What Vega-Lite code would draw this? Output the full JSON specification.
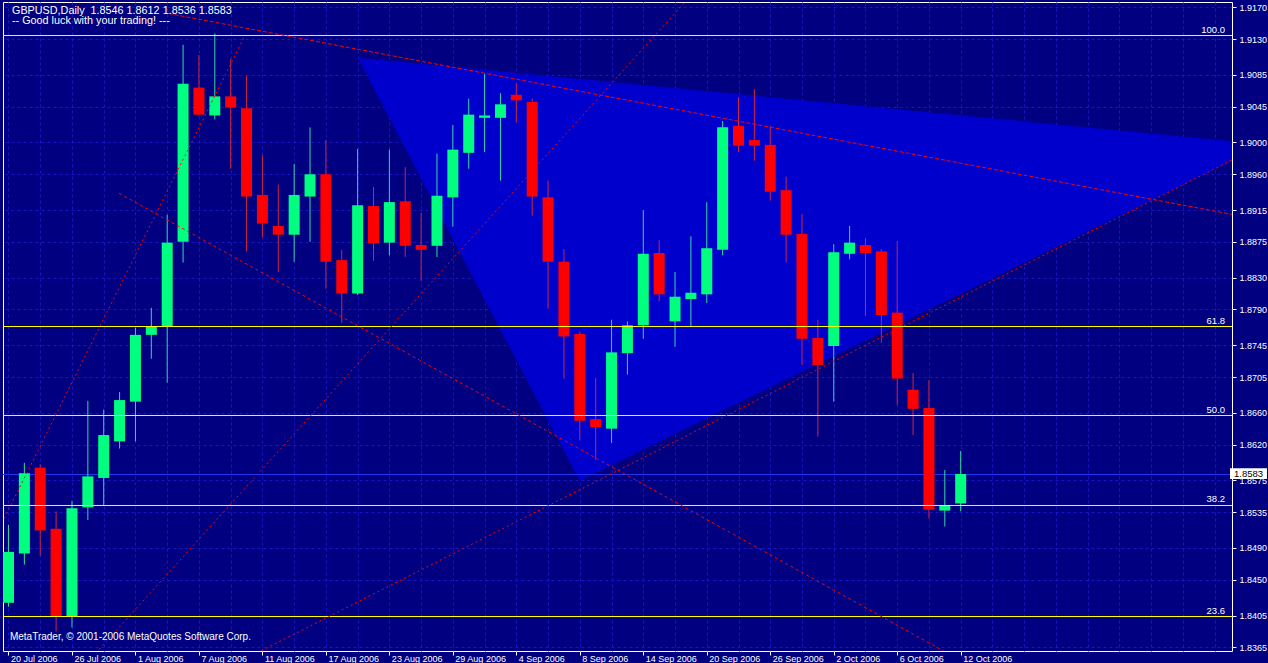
{
  "$schema": "https://vega.github.io/schema/vega-lite/v6.json",
  "width": 1229,
  "height": 649,
  "padding": {"left": 3, "top": 2, "right": 36, "bottom": 12},
  "autosize": {"type": "none"},
  "background": "#000080",
  "config": {
    "view": {"stroke": "#FFFFFF", "strokeWidth": 1, "fill": "#000080"},
    "font": "Liberation Sans",
    "text": {"font": "Liberation Sans"},
    "axisX": {
      "domain": false,
      "grid": true,
      "gridColor": "#1616C4",
      "gridDash": [3, 3],
      "gridWidth": 1,
      "ticks": true,
      "tickSize": 4,
      "labelAlign": "left",
      "labelBaseline": "top",
      "labelOffset": 2,
      "labelPadding": -1,
      "labelColor": "#FFFFFF",
      "labelFont": "Liberation Sans",
      "labelFontSize": 9,
      "labelOverlap": false,
      "labelFlush": false
    },
    "axisY": {
      "domain": false,
      "grid": true,
      "gridColor": "#1616C4",
      "gridDash": [3, 3],
      "gridWidth": 1,
      "tickColor": "#FFFFFF",
      "tickSize": 4,
      "labelPadding": 3,
      "labelColor": "#FFFFFF",
      "labelFont": "Liberation Sans",
      "labelFontSize": 9,
      "labelOverlap": false,
      "labelFlush": false
    }
  },
  "datasets": {
    "candles": [
      {"i":0,"date":"20 Jul 2006","o":1.8421,"h":1.8519,"l":1.8416,"c":1.8485},
      {"i":1,"date":"21 Jul 2006","o":1.8483,"h":1.8597,"l":1.8469,"c":1.8584},
      {"i":2,"date":"24 Jul 2006","o":1.8591,"h":1.8595,"l":1.8480,"c":1.8512},
      {"i":3,"date":"25 Jul 2006","o":1.8514,"h":1.8536,"l":1.8385,"c":1.8403},
      {"i":4,"date":"26 Jul 2006","o":1.8404,"h":1.8549,"l":1.8390,"c":1.8540},
      {"i":5,"date":"27 Jul 2006","o":1.8541,"h":1.8675,"l":1.8525,"c":1.8580},
      {"i":6,"date":"28 Jul 2006","o":1.8578,"h":1.8664,"l":1.8544,"c":1.8632},
      {"i":7,"date":"31 Jul 2006","o":1.8624,"h":1.8686,"l":1.8615,"c":1.8676},
      {"i":8,"date":"1 Aug 2006","o":1.8674,"h":1.8767,"l":1.8624,"c":1.8758},
      {"i":9,"date":"2 Aug 2006","o":1.8758,"h":1.8792,"l":1.8728,"c":1.8769},
      {"i":10,"date":"3 Aug 2006","o":1.8769,"h":1.8909,"l":1.8698,"c":1.8874},
      {"i":11,"date":"4 Aug 2006","o":1.8875,"h":1.9123,"l":1.8849,"c":1.9074},
      {"i":12,"date":"7 Aug 2006","o":1.9069,"h":1.9110,"l":1.9034,"c":1.9035},
      {"i":13,"date":"8 Aug 2006","o":1.9034,"h":1.9137,"l":1.9029,"c":1.9058},
      {"i":14,"date":"9 Aug 2006","o":1.9058,"h":1.9105,"l":1.8967,"c":1.9044},
      {"i":15,"date":"10 Aug 2006","o":1.9043,"h":1.9084,"l":1.8863,"c":1.8932},
      {"i":16,"date":"11 Aug 2006","o":1.8934,"h":1.8984,"l":1.8881,"c":1.8898},
      {"i":17,"date":"14 Aug 2006","o":1.8895,"h":1.8947,"l":1.8837,"c":1.8884},
      {"i":18,"date":"15 Aug 2006","o":1.8884,"h":1.8973,"l":1.8850,"c":1.8934},
      {"i":19,"date":"16 Aug 2006","o":1.8932,"h":1.9019,"l":1.8875,"c":1.8960},
      {"i":20,"date":"17 Aug 2006","o":1.8960,"h":1.9003,"l":1.8816,"c":1.8850},
      {"i":21,"date":"18 Aug 2006","o":1.8852,"h":1.8865,"l":1.8773,"c":1.8810},
      {"i":22,"date":"21 Aug 2006","o":1.8810,"h":1.8992,"l":1.8808,"c":1.8921},
      {"i":23,"date":"22 Aug 2006","o":1.8920,"h":1.8944,"l":1.8851,"c":1.8873},
      {"i":24,"date":"23 Aug 2006","o":1.8874,"h":1.8991,"l":1.8858,"c":1.8925},
      {"i":25,"date":"24 Aug 2006","o":1.8926,"h":1.8969,"l":1.8856,"c":1.8870},
      {"i":26,"date":"25 Aug 2006","o":1.8871,"h":1.8911,"l":1.8826,"c":1.8865},
      {"i":27,"date":"28 Aug 2006","o":1.8870,"h":1.8986,"l":1.8856,"c":1.8933},
      {"i":28,"date":"29 Aug 2006","o":1.8931,"h":1.9022,"l":1.8894,"c":1.8991},
      {"i":29,"date":"30 Aug 2006","o":1.8987,"h":1.9055,"l":1.8967,"c":1.9035},
      {"i":30,"date":"31 Aug 2006","o":1.9031,"h":1.9086,"l":1.8988,"c":1.9034},
      {"i":31,"date":"1 Sep 2006","o":1.9031,"h":1.9062,"l":1.8952,"c":1.9048},
      {"i":32,"date":"4 Sep 2006","o":1.9060,"h":1.9075,"l":1.9025,"c":1.9053},
      {"i":33,"date":"5 Sep 2006","o":1.9051,"h":1.9055,"l":1.8908,"c":1.8932},
      {"i":34,"date":"6 Sep 2006","o":1.8931,"h":1.8952,"l":1.8791,"c":1.8850},
      {"i":35,"date":"7 Sep 2006","o":1.8850,"h":1.8866,"l":1.8703,"c":1.8756},
      {"i":36,"date":"8 Sep 2006","o":1.8759,"h":1.8762,"l":1.8625,"c":1.8650},
      {"i":37,"date":"11 Sep 2006","o":1.8652,"h":1.8704,"l":1.8601,"c":1.8642},
      {"i":38,"date":"12 Sep 2006","o":1.8640,"h":1.8777,"l":1.8622,"c":1.8736},
      {"i":39,"date":"13 Sep 2006","o":1.8735,"h":1.8775,"l":1.8708,"c":1.8770},
      {"i":40,"date":"14 Sep 2006","o":1.8770,"h":1.8915,"l":1.8753,"c":1.8860},
      {"i":41,"date":"15 Sep 2006","o":1.8861,"h":1.8877,"l":1.8800,"c":1.8809},
      {"i":42,"date":"18 Sep 2006","o":1.8775,"h":1.8837,"l":1.8743,"c":1.8806},
      {"i":43,"date":"19 Sep 2006","o":1.8803,"h":1.8882,"l":1.8769,"c":1.8811},
      {"i":44,"date":"20 Sep 2006","o":1.8809,"h":1.8925,"l":1.8798,"c":1.8867},
      {"i":45,"date":"21 Sep 2006","o":1.8865,"h":1.9027,"l":1.8858,"c":1.9019},
      {"i":46,"date":"22 Sep 2006","o":1.9021,"h":1.9057,"l":1.8988,"c":1.8996},
      {"i":47,"date":"25 Sep 2006","o":1.9003,"h":1.9067,"l":1.8977,"c":1.8996},
      {"i":48,"date":"26 Sep 2006","o":1.8997,"h":1.9021,"l":1.8927,"c":1.8938},
      {"i":49,"date":"27 Sep 2006","o":1.8940,"h":1.8957,"l":1.8849,"c":1.8884},
      {"i":50,"date":"28 Sep 2006","o":1.8885,"h":1.8910,"l":1.8720,"c":1.8753},
      {"i":51,"date":"29 Sep 2006","o":1.8754,"h":1.8777,"l":1.8630,"c":1.8720},
      {"i":52,"date":"2 Oct 2006","o":1.8744,"h":1.8872,"l":1.8674,"c":1.8862},
      {"i":53,"date":"3 Oct 2006","o":1.8860,"h":1.8895,"l":1.8853,"c":1.8874},
      {"i":54,"date":"4 Oct 2006","o":1.8871,"h":1.8880,"l":1.8782,"c":1.8861},
      {"i":55,"date":"5 Oct 2006","o":1.8863,"h":1.8866,"l":1.8748,"c":1.8783},
      {"i":56,"date":"6 Oct 2006","o":1.8786,"h":1.8876,"l":1.8670,"c":1.8703},
      {"i":57,"date":"9 Oct 2006","o":1.8689,"h":1.8710,"l":1.8632,"c":1.8665},
      {"i":58,"date":"10 Oct 2006","o":1.8666,"h":1.8701,"l":1.8527,"c":1.8538},
      {"i":59,"date":"11 Oct 2006","o":1.8537,"h":1.8588,"l":1.8517,"c":1.8543},
      {"i":60,"date":"12 Oct 2006","o":1.8546,"h":1.8612,"l":1.8536,"c":1.8583}
    ],
    "triangle": [
      {"i":22.01,"top":1.91066,"bot":1.91066},
      {"i":35.99,"top":1.90799,"bot":1.85746},
      {"i":79.16,"top":1.89975,"bot":1.89975}
    ],
    "fib": [
      {"level":"100.0","p":1.913456},
      {"level":"61.8","p":1.876852},
      {"level":"50.0","p":1.865657},
      {"level":"38.2","p":1.854337},
      {"level":"23.6","p":1.840374}
    ],
    "trend": [
      {"line":"A","i":-0.84,"p":1.85044},
      {"line":"A","i":14.89,"p":1.91343},
      {"line":"B","i":0,"p":1.82364},
      {"line":"B","i":45,"p":1.92288},
      {"line":"C","i":12.28,"p":1.83239},
      {"line":"C","i":81.03,"p":1.90176},
      {"line":"D","i":6.97,"p":1.89361},
      {"line":"D","i":59.78,"p":1.83508},
      {"line":"E","i":10.09,"p":1.91622},
      {"line":"E","i":81.03,"p":1.88947}
    ],
    "bid": [{"label":"1.8583","p":1.8583}]
  },
  "layer": [
    {
      "data": {"name": "triangle"},
      "mark": {"type": "area", "color": "#0000CC", "clip": true, "interpolate": "linear"},
      "encoding": {
        "x": {
          "field": "i", "type": "quantitative", "title": null,
          "scale": {"domain": [-0.03125, 76.78125], "nice": false, "zero": false},
          "axis": {
            "values": [0,2,4,6,8,10,12,14,16,18,20,22,24,26,28,30,32,34,36,38,40,42,44,46,48,50,52,54,56,58,60,62,64,66,68,70,72,74,76],
            "tickCount": 200,
            "labelOverlap": false,
            "tickColor": {"condition": {"test": "datum.value % 4 === 0 && datum.value <= 60", "value": "#FFFFFF"}, "value": "transparent"},
            "labelExpr": "datum.value % 4 === 0 && datum.value <= 60 ? ['20 Jul 2006','26 Jul 2006','1 Aug 2006','7 Aug 2006','11 Aug 2006','17 Aug 2006','23 Aug 2006','29 Aug 2006','4 Sep 2006','8 Sep 2006','14 Sep 2006','20 Sep 2006','26 Sep 2006','2 Oct 2006','6 Oct 2006','12 Oct 2006'][datum.value / 4] : ''"
          }
        },
        "y": {
          "field": "top", "type": "quantitative", "title": null,
          "scale": {"domain": [1.836035, 1.91767], "nice": false, "zero": false},
          "axis": {
            "orient": "right",
            "tickCount": 200,
            "labelOverlap": false,
            "values": [1.9170,1.9130,1.9085,1.9045,1.9000,1.8960,1.8915,1.8875,1.8830,1.8790,1.8745,1.8705,1.8660,1.8620,1.8575,1.8535,1.8490,1.8450,1.8405,1.8365],
            "format": ".4f"
          }
        },
        "y2": {"field": "bot"}
      }
    },
    {
      "data": {"name": "bid"},
      "mark": {"type": "rule", "color": "#2236F0", "strokeWidth": 1, "clip": true, "yOffset": 0.5},
      "encoding": {
        "y": {"field": "p", "type": "quantitative", "title": null}
      }
    },
    {
      "data": {"name": "candles"},
      "mark": {"type": "rule", "strokeWidth": 1, "clip": true},
      "encoding": {
        "x": {"field": "i", "type": "quantitative", "title": null},
        "y": {"field": "l", "type": "quantitative", "title": null},
        "y2": {"field": "h"},
        "color": {"condition": {"test": "datum.c >= datum.o", "value": "#34D8A4"}, "value": "#D0243E"}
      }
    },
    {
      "data": {"name": "candles"},
      "mark": {"type": "bar", "size": 11, "clip": true, "cornerRadius": 0},
      "encoding": {
        "x": {"field": "i", "type": "quantitative", "title": null},
        "y": {"field": "o", "type": "quantitative", "title": null},
        "y2": {"field": "c"},
        "color": {"condition": {"test": "datum.c >= datum.o", "value": "#00FF7F"}, "value": "#FF0000"}
      }
    },
    {
      "data": {"name": "fib"},
      "mark": {"type": "rule", "color": "#FFFF00", "strokeWidth": 1, "clip": true},
      "encoding": {
        "y": {"field": "p", "type": "quantitative", "title": null}
      }
    },
    {
      "data": {"name": "fib"},
      "mark": {"type": "text", "align": "right", "baseline": "bottom", "dy": -1, "color": "#FFFFFF", "font": "Liberation Sans", "fontSize": 9.5, "clip": true},
      "encoding": {
        "x": {"datum": 76.66, "type": "quantitative", "title": null},
        "y": {"field": "p", "type": "quantitative", "title": null},
        "text": {"field": "level"}
      }
    },
    {
      "data": {"name": "trend"},
      "mark": {"type": "line", "color": "#FF0000", "strokeWidth": 1, "clip": true},
      "encoding": {
        "x": {"field": "i", "type": "quantitative", "title": null},
        "y": {"field": "p", "type": "quantitative", "title": null},
        "detail": {"field": "line"},
        "strokeDash": {"field": "line", "type": "nominal", "legend": null, "scale": {"domain": ["A","B","C","D","E"], "range": [[2,3],[2,3],[2,3],[3,3],[4,2]]}}
      }
    },
    {
      "data": {"values": [{"t": "GBPUSD,Daily\u00a0 1.8546 1.8612 1.8536 1.8583", "i": 0.22, "p": 1.91658}, {"t": "-- Good luck with your trading! ---", "i": 0.22, "p": 1.91532}]},
      "mark": {"type": "text", "align": "left", "baseline": "middle", "color": "#FFFFFF", "font": "Liberation Sans", "fontSize": 10.8, "clip": true},
      "encoding": {
        "x": {"field": "i", "type": "quantitative", "title": null},
        "y": {"field": "p", "type": "quantitative", "title": null},
        "text": {"field": "t"}
      }
    },
    {
      "data": {"values": [{"t": "MetaTrader, \u00a9 2001-2006 MetaQuotes Software Corp.", "i": 0.09, "p": 1.83783}]},
      "mark": {"type": "text", "align": "left", "baseline": "middle", "color": "#FFFFFF", "font": "Liberation Sans", "fontSize": 10, "clip": true},
      "encoding": {
        "x": {"field": "i", "type": "quantitative", "title": null},
        "y": {"field": "p", "type": "quantitative", "title": null},
        "text": {"field": "t"}
      }
    },
    {
      "data": {"name": "bid"},
      "mark": {"type": "rect", "color": "#FFFFFF", "clip": false},
      "encoding": {
        "x": {"datum": 76.97, "type": "quantitative", "title": null},
        "x2": {"datum": 79.3},
        "y": {"datum": 1.85902, "type": "quantitative", "title": null},
        "y2": {"datum": 1.85767}
      }
    },
    {
      "data": {"name": "bid"},
      "mark": {"type": "text", "align": "left", "baseline": "middle", "color": "#000000", "font": "Liberation Sans", "fontSize": 9.5, "clip": false},
      "encoding": {
        "x": {"datum": 77.22, "type": "quantitative", "title": null},
        "y": {"field": "p", "type": "quantitative", "title": null},
        "text": {"field": "label"}
      }
    }
  ]
}
